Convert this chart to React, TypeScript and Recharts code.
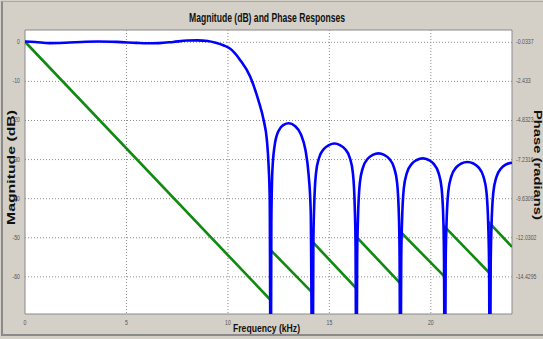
import React from 'react';
import { LineChart, Line, XAxis, YAxis, CartesianGrid, ReferenceArea } from 'recharts';

// magnitude response (dB), kHz
const magFreq = [
  0, 0.5, 1.2, 2.0, 3.0, 3.6, 4.5, 5.5, 6.0, 6.6, 7.3, 8.0, 8.5, 9.0, 9.4, 9.8, 10.1, 10.6, 11.1, 11.5, 11.76, 11.92, 12.0, 12.06, 12.11,
  12.14, 12.19, 12.3, 12.5, 12.75, 13.0, 13.3, 13.6, 13.82, 13.97, 14.08, 14.17,
  14.21, 14.25, 14.34, 14.49, 14.73, 14.98, 15.25, 15.52, 15.77, 16.01, 16.16, 16.25, 16.29, 16.33,
  16.37, 16.41, 16.5, 16.65, 16.89, 17.14, 17.42, 17.7, 17.95, 18.19, 18.34, 18.43, 18.46, 18.5,
  18.54, 18.58, 18.67, 18.82, 19.06, 19.31, 19.6, 19.89, 20.14, 20.38, 20.53, 20.62, 20.65, 20.69,
  20.73, 20.77, 20.86, 21.01, 21.25, 21.5, 21.8, 22.1, 22.35, 22.59, 22.74, 22.83, 22.87, 22.91,
  22.95, 22.99, 23.08, 23.23, 23.47, 23.72, 24.0,
];
const magDb = [
  0.2, 0.1, -0.2, -0.1, 0.15, 0.2, 0.1, -0.15, -0.25, -0.2, 0.1, 0.45, 0.5, 0.35, -0.1, -0.8, -1.6, -4.5, -8.8, -14.8, -19.9, -25, -31, -40, -100,
  -46, -33, -26.5, -22.6, -21.1, -20.7, -21.4, -23.6, -27.5, -33.5, -43, -100,
  -52, -42, -33.5, -29.6, -27.3, -26.3, -25.9, -26.3, -27.3, -29.6, -33.5, -42, -52, -100,
  -55, -45, -36, -32.1, -29.8, -28.8, -28.4, -28.8, -29.8, -32.1, -36, -45, -55, -100,
  -56, -46, -37.3, -33.4, -31.1, -30.1, -29.7, -30.1, -31.1, -33.4, -37.3, -46, -56, -100,
  -57, -47, -38.2, -34.3, -32, -31, -30.6, -31, -32, -34.3, -38.2, -47, -57, -100,
  -57, -47, -38.4, -34.5, -32.2, -31.2, -30.8,
];

// phase response (radians), jumps at each null
const phaseFreq = [0, 12.11, 12.11, 14.17, 14.17, 16.33, 16.33, 18.5, 18.5, 20.69, 20.69, 22.91, 22.91, 24.0];
const phaseRad = [0, -15.86, -12.79, -15.41, -12.28, -15.14, -11.97, -14.83, -11.66, -14.43, -11.36, -14.22, -11.15, -12.59];

const freqTicks = [0, 5, 10, 15, 20];
const magTicks = [0, -10, -20, -30, -40, -50, -60];
const phaseTicks = [-0.0337, -2.433, -4.8323, -7.2316, -9.6309, -12.0302, -14.4295];

const magData = magFreq.map((f, i) => ({ f, mag: magDb[i] }));
const phaseData = phaseFreq.map((f, i) => ({ f, ph: phaseRad[i] }));

const W = 543;
const H = 339;

const TickText = ({ x, y, payload, anchor, dx, dy }: any) => (
  <g transform={`translate(${x + dx},${y + dy}) scale(0.8,1)`}>
    <text x={0} y={0} textAnchor={anchor} fontSize={6.5} fill="#555" fontFamily="Arial, 'Liberation Sans', sans-serif">
      {payload.value}
    </text>
  </g>
);

export default function App() {
  return (
    <div
      style={{
        position: 'absolute',
        left: 0,
        top: 0,
        width: W,
        height: H,
        background: '#d4d0c8',
        fontFamily: "Arial, 'Liberation Sans', sans-serif",
      }}
    >
      <div
        style={{
          position: 'absolute',
          left: 1,
          top: 1,
          width: W - 1,
          height: 335,
          borderLeft: '2px solid #8a8a8a',
          borderTop: '1px solid #a8a8a8',
          borderBottom: '2px solid #8a8a8a',
          boxSizing: 'border-box',
        }}
      />
      <div style={{ position: 'absolute', left: 0, top: 0 }}>
        <LineChart width={W} height={H} margin={{ top: 30, right: 0, bottom: 0, left: 0 }}>
          <CartesianGrid
            stroke="#8c8c8c"
            strokeDasharray="1 2"
            fill="#ffffff"
            yAxisId="mag"
            verticalValues={[5, 10, 15, 20]}
            horizontalValues={magTicks}
          />
          <XAxis
            type="number"
            dataKey="f"
            domain={[0, 24]}
            ticks={freqTicks}
            height={25}
            axisLine={false}
            tickLine={false}
            allowDataOverflow
            tick={<TickText anchor="middle" dx={0} dy={3} />}
          />
          <YAxis
            yAxisId="mag"
            orientation="left"
            type="number"
            domain={[-69.5, 3.15]}
            ticks={magTicks}
            width={25}
            axisLine={false}
            tickLine={false}
            allowDataOverflow
            tick={<TickText anchor="end" dx={3} dy={2} />}
          />
          <YAxis
            yAxisId="ph"
            orientation="right"
            type="number"
            domain={[-16.709, 0.7221]}
            ticks={phaseTicks}
            width={31}
            axisLine={false}
            tickLine={false}
            allowDataOverflow
            tick={<TickText anchor="start" dx={-4} dy={2} />}
          />
          <ReferenceArea
            yAxisId="mag"
            x1={0}
            x2={24}
            y1={-69.5}
            y2={3.15}
            fill="none"
            fillOpacity={0}
            stroke="#8a8a8a"
            strokeWidth={1}
            ifOverflow="visible"
          />
          <Line
            yAxisId="ph"
            data={phaseData}
            dataKey="ph"
            type="linear"
            stroke="#118a11"
            strokeWidth={2.6}
            dot={false}
            isAnimationActive={false}
          />
          <Line
            yAxisId="mag"
            data={magData}
            dataKey="mag"
            type="monotone"
            stroke="#0000ff"
            strokeWidth={2.6}
            dot={false}
            isAnimationActive={false}
          />
        </LineChart>
      </div>
      <svg
        width={W}
        height={H}
        style={{ position: 'absolute', left: 0, top: 0, pointerEvents: 'none' }}
        fontFamily="Arial, 'Liberation Sans', sans-serif"
        fontWeight="bold"
        fill="#111"
      >
        <text x={267} y={22} textAnchor="middle" fontSize={12} textLength={156} lengthAdjust="spacingAndGlyphs">
          Magnitude (dB) and Phase Responses
        </text>
        <text x={266.5} y={332} textAnchor="middle" fontSize={11} textLength={67} lengthAdjust="spacingAndGlyphs">
          Frequency (kHz)
        </text>
        <text
          x={0}
          y={0}
          textAnchor="middle"
          fontSize={10}
          textLength={115}
          lengthAdjust="spacingAndGlyphs"
          transform="translate(15,167.5) rotate(-90)"
        >
          Magnitude (dB)
        </text>
        <text
          x={0}
          y={0}
          textAnchor="middle"
          fontSize={10}
          textLength={110}
          lengthAdjust="spacingAndGlyphs"
          transform="translate(534,165) rotate(90)"
        >
          Phase (radians)
        </text>
      </svg>
    </div>
  );
}
